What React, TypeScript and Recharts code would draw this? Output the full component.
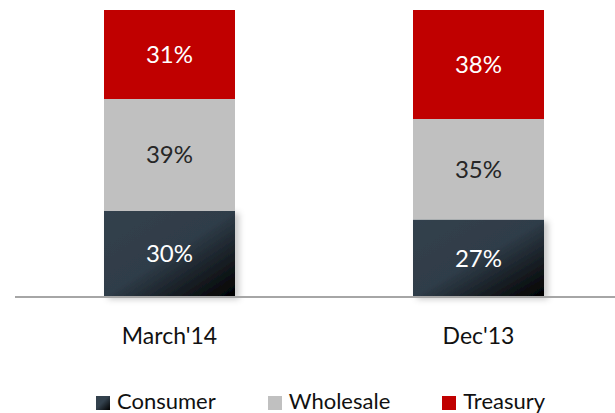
import { Bar, BarChart, LabelList, XAxis, YAxis } from "recharts";

const categories = ["March'14", "Dec'13"];
const consumer = [30, 27];
const wholesale = [39, 35];
const treasury = [31, 38];

const seriesNames = ["Consumer", "Wholesale", "Treasury"];

const data = categories.map((name, i) => ({
  name,
  consumer: consumer[i],
  wholesale: wholesale[i],
  treasury: treasury[i],
}));

const FONT = "Lato, 'Open Sans', sans-serif";
const pct = (v: any) => `${v}%`;

function LegendRow() {
  const swatches = ["linear-gradient(135deg, #33414d 45%, #000 100%)", "#c0c0c0", "#c00000"];
  return (
    <div
      style={{
        position: "absolute",
        top: 391,
        left: 96,
        display: "flex",
        alignItems: "center",
        fontFamily: FONT,
        fontSize: 22,
        color: "#111",
        lineHeight: "20px",
      }}
    >
      {seriesNames.map((n, i) => (
        <div key={n} style={{ display: "flex", alignItems: "center", marginRight: 52 }}>
          <span style={{ width: 14, height: 14, background: swatches[i], marginRight: 7, marginTop: 3 }} />
          <span>{n}</span>
        </div>
      ))}
    </div>
  );
}

export default function App() {
  return (
    <div style={{ position: "absolute", top: 0, left: 0, width: 615, height: 413, overflow: "hidden", background: "#fff" }}>
      <BarChart width={650} height={360} data={data} margin={{ top: 10, right: 17, bottom: 0, left: 15 }} barSize={131}>
        <defs>
          <linearGradient id="consumerGrad" x1="0" y1="0" x2="1" y2="1">
            <stop offset="0%" stopColor="#33414d" />
            <stop offset="50%" stopColor="#2f3c48" />
            <stop offset="100%" stopColor="#000000" />
          </linearGradient>
          <filter id="shadow" x="-10%" y="-10%" width="130%" height="130%">
            <feDropShadow dx="4" dy="2" stdDeviation="3" floodColor="#000" floodOpacity="0.22" />
          </filter>
        </defs>
        <YAxis hide domain={[0, 100]} />
        <XAxis
          dataKey="name"
          height={63}
          tickLine={false}
          tickSize={0}
          tickMargin={31}
          axisLine={{ stroke: "#a6a6a6", strokeWidth: 2 }}
          tick={{ fill: "#111", fontSize: 23, fontFamily: FONT }}
        />
        <Bar dataKey="consumer" stackId="a" fill="url(#consumerGrad)" filter="url(#shadow)" isAnimationActive={false}>
          <LabelList dataKey="consumer" position="center" formatter={pct} fill="#fff" fontSize={24} fontFamily={FONT} />
        </Bar>
        <Bar dataKey="wholesale" stackId="a" fill="#c0c0c0" isAnimationActive={false}>
          <LabelList dataKey="wholesale" position="center" formatter={pct} fill="#262626" fontSize={24} fontFamily={FONT} />
        </Bar>
        <Bar dataKey="treasury" stackId="a" fill="#c00000" isAnimationActive={false}>
          <LabelList dataKey="treasury" position="center" formatter={pct} fill="#fff" fontSize={24} fontFamily={FONT} />
        </Bar>
      </BarChart>
      <LegendRow />
    </div>
  );
}
